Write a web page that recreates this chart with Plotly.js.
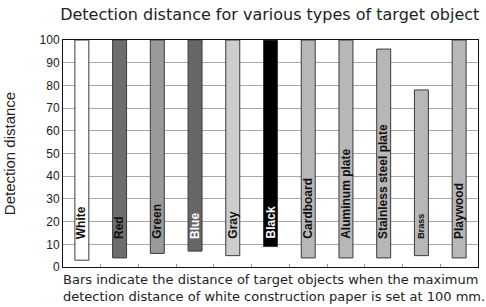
<!DOCTYPE html>
<html>
<head>
<meta charset="utf-8">
<script src="https://cdn.plot.ly/plotly-3.0.1.min.js"></script>
<style>html,body{margin:0;padding:0;background:#fff;}#chart{width:486px;height:307px;}</style>
</head>
<body>
<div id="chart"></div>
<script>
// Data
const categories = ["White","Red","Green","Blue","Gray","Black","Cardboard","Aluminum plate","Stainless steel plate","Brass","Playwood"];
const barTop    = [100, 100, 100, 100, 100, 100, 100, 100, 96, 78, 100];
const barBottom = [3, 4, 6, 7, 5, 9, 4, 4, 4, 5, 4];
const yTicks = [0,10,20,30,40,50,60,70,80,90,100];
const footnote = ["Bars indicate the distance of target objects when the maximum",
                  "detection distance of white construction paper is set at 100 mm."];

// Styling
const barColors = ["#ffffff","#6e6e6e","#9a9a9a","#666666","#cdcdcd","#000000","#b7b7b7","#b7b7b7","#b7b7b7","#b7b7b7","#b7b7b7"];
const labelColors = ["#111","#111","#111","#fff","#111","#fff","#111","#111","#111","#111","#111"];
const labelSizes = [12,12,12,12,12,12,12,12,12,9,12];

const trace = {
  type: "bar",
  x: categories,
  y: barTop.map((t,i)=>t-barBottom[i]),
  base: barBottom,
  width: 0.37,
  marker: {color: barColors, line: {color: "#3a3a3a", width: 1}},
  hoverinfo: "skip"
};

const annotations = categories.map((c,i)=>({
  x: c, y: 11.5, xref: "x", yref: "y",
  text: "<b>" + c + "</b>", textangle: -90, showarrow: false,
  xanchor: "center", yanchor: "bottom",
  font: {family: "Liberation Sans, Arial, sans-serif", size: labelSizes[i], color: labelColors[i]}
}));
annotations.push({
  xref: "paper", yref: "paper", x: -0.005, y: -0.012, xanchor: "left", yanchor: "top", align: "left",
  text: footnote.join("<br>"), showarrow: false,
  font: {family: "DejaVu Sans, sans-serif", size: 13, color: "#222"}
});

const layout = {
  width: 486, height: 307,
  margin: {l: 63, r: 8, t: 40, b: 40},
  paper_bgcolor: "#fff", plot_bgcolor: "#fff",
  showlegend: false,
  title: {text: "Detection distance for various types of target object", x: 0.555, xanchor: "center", y: 0.952, yanchor: "middle",
          font: {family: "DejaVu Sans, sans-serif", size: 16, color: "#222"}},
  xaxis: {type: "category", showticklabels: false, ticks: "inside", tickson: "boundaries", ticklen: 3, tickcolor: "#999",
          showgrid: false, showline: true, linecolor: "#111", linewidth: 1, mirror: true, zeroline: false, fixedrange: true},
  yaxis: {range: [0, 100], tickvals: yTicks, ticktext: yTicks.map(String), ticks: "", showgrid: true, gridcolor: "#a8a8a8", gridwidth: 1,
          showline: true, linecolor: "#111", linewidth: 1, mirror: true, zeroline: false,
          tickfont: {family: "Liberation Sans, Arial, sans-serif", size: 12, color: "#222"},
          title: {text: "Detection distance", standoff: 20, font: {family: "Liberation Sans, Arial, sans-serif", size: 15, color: "#222"}},
          fixedrange: true},
  annotations: annotations
};

Plotly.newPlot("chart", [trace], layout, {displayModeBar: false, staticPlot: true});
</script>
</body>
</html>
